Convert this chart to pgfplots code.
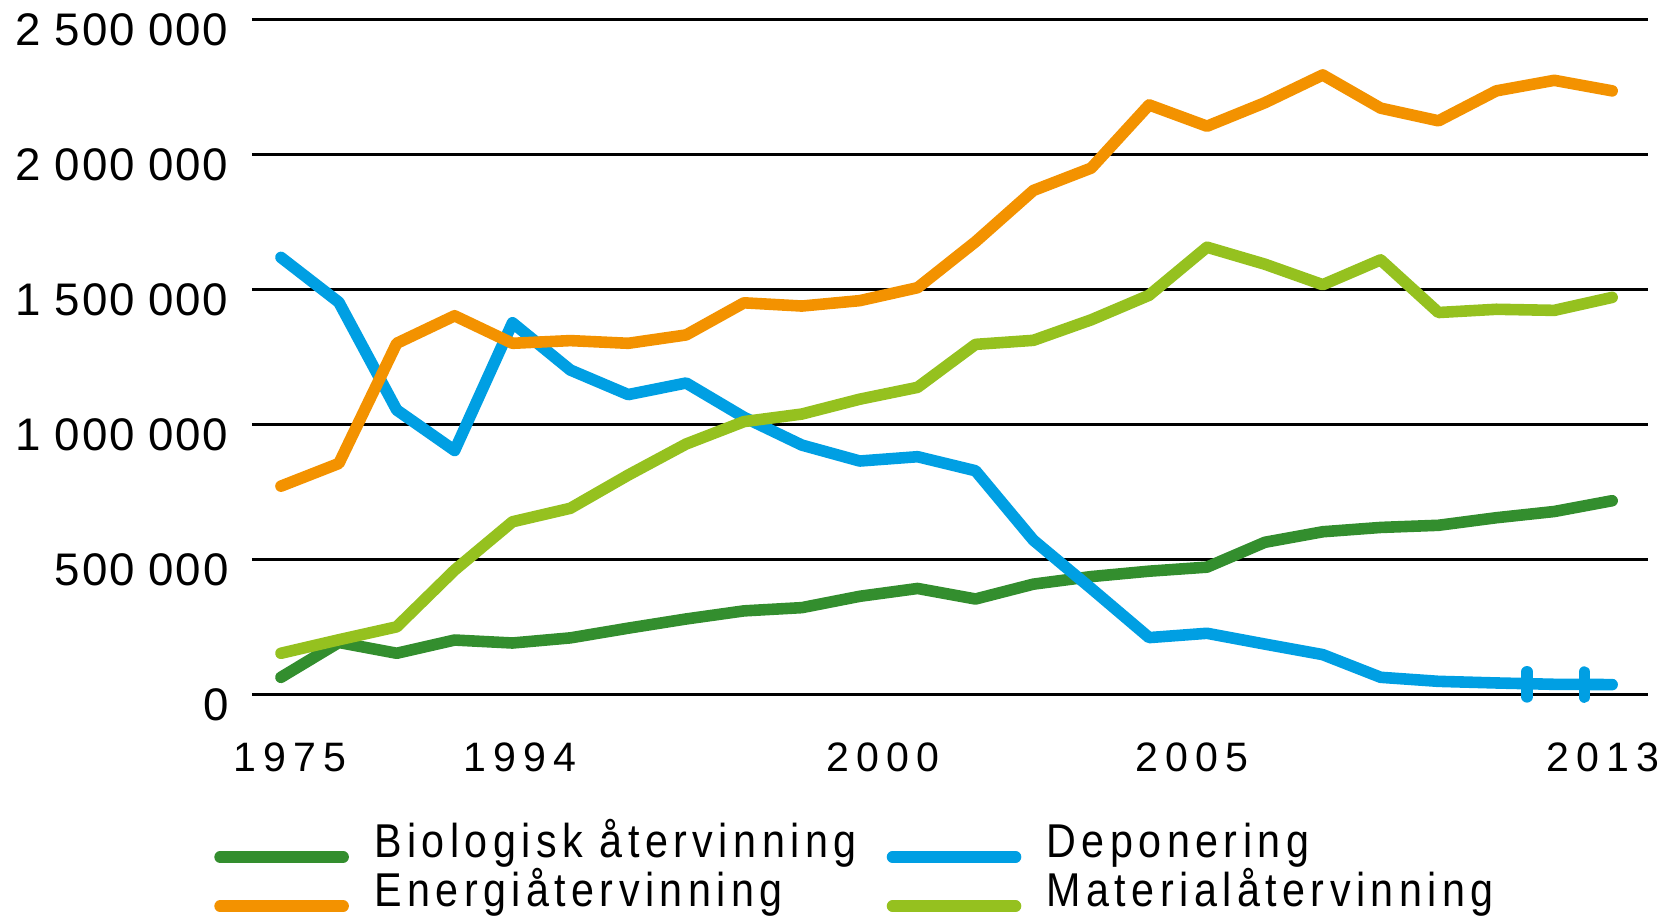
\documentclass[border=0pt]{standalone}
\usepackage{fontspec}
\setmainfont{Liberation Sans}
\newfontfamily\legfont{Liberation Sans}[LetterSpace=11.5,FakeStretch=0.87]
\newfontfamily\xfont{Liberation Sans}[LetterSpace=18]
\newfontfamily\yfont{Liberation Sans}[LetterSpace=4]
\usepackage{pgfplots}
\pgfplotsset{compat=1.18}
\definecolor{cbio}{RGB}{51,142,46}
\definecolor{cdep}{RGB}{0,159,227}
\definecolor{cene}{RGB}{243,146,0}
\definecolor{cmat}{RGB}{149,193,31}
\begin{document}
\begin{tikzpicture}
\useasboundingbox (-2.52cm,-2.287cm) rectangle (14.25cm,6.943cm);
\begin{axis}[
  at={(0,0)}, anchor=south west,
  scale only axis, width=13.96cm, height=6.75cm,
  xmin=-0.501, xmax=23.62, ymin=0, ymax=2500000,
  scaled y ticks=false,
  axis line style={draw=none}, tick style={draw=none},
  ymajorgrids, grid style={black, line width=0.75pt},
  ytick={0,500000,1000000,1500000,2000000,2500000},
  yticklabels={0,500\hspace{0.3em}000,1\hspace{0.3em}000\hspace{0.3em}000,1\hspace{0.3em}500\hspace{0.3em}000,2\hspace{0.3em}000\hspace{0.3em}000,2\hspace{0.3em}500\hspace{0.3em}000},
  yticklabel style={anchor=east, inner sep=0pt, xshift=-6.5pt, yshift=-2.9pt, font=\yfont\fontsize{13}{15}\selectfont},
  xtick={0.156,4.13,10.40,15.74,22.84},
  xticklabels={1975,1994,2000,2005,2013},
  xticklabel style={anchor=base, inner sep=0pt, yshift=-21.9pt, font=\xfont\fontsize{11.7}{13}\selectfont},
  clip=false,
  every axis plot/.append style={line width=3.3pt, line join=round, line cap=round},
  legend columns=2,
  legend cell align=left,
  legend image code/.code={\draw[#1, line width=3.3pt, line cap=round] (0pt,-3.15pt) -- (35pt,-3.15pt);},
  legend style={draw=none, fill=none, inner sep=0pt, outer sep=0pt,
    at={(rel axis cs:-0.027,-0.192)}, anchor=north west,
    font=\legfont\fontsize{13.5}{15}\selectfont,
    row sep=1.5pt,
    nodes={inner sep=0pt, text height=9.5pt, text depth=3pt},
    /tikz/every odd column/.append style={column sep=7.2pt},
    /tikz/every even column/.append style={column sep=8.6pt}},
]
\addplot[color=cbio] coordinates {
(0,63000) (1,192000) (2,152000) (3,201000) (4,190000) (5,209000) (6,245000) (7,279000)
(8,309000) (9,321000) (10,363000) (11,392000) (12,353000) (13,408000) (14,436000) (15,456000)
(16,471000) (17,563000) (18,602000) (19,618000) (20,626000) (21,654000) (22,677000) (23,717000)};
\addlegendentry{Biologisk återvinning}
\addplot[color=cdep] coordinates {
(0,1618000) (1,1452000) (2,1053000) (3,903000) (4,1376000) (5,1201000) (6,1110000) (7,1153000)
(8,1026000) (9,923000) (10,864000) (11,880000) (12,828000) (13,571000) (14,392000) (15,210000)
(16,226000) (17,186000) (18,147000) (19,63000) (20,48000) (21,42000) (22,37000) (23,36000)};
\addlegendentry{Deponering}
\addplot[color=cene] coordinates {
(0,771000) (1,855000) (2,1300000) (3,1402000) (4,1300000) (5,1310000) (6,1300000) (7,1331000)
(8,1450000) (9,1438000) (10,1458000) (11,1506000) (12,1676000) (13,1866000) (14,1949000) (15,2183000)
(16,2104000) (17,2191000) (18,2294000) (19,2171000) (20,2124000) (21,2235000) (22,2274000) (23,2235000)};
\addlegendentry{Energiåtervinning}
\addplot[color=cmat] coordinates {
(0,152000) (1,202000) (2,250000) (3,460000) (4,639000) (5,689000) (6,812000) (7,927000)
(8,1010000) (9,1038000) (10,1093000) (11,1137000) (12,1296000) (13,1311000) (14,1387000) (15,1478000)
(16,1656000) (17,1593000) (18,1517000) (19,1609000) (20,1414000) (21,1426000) (22,1422000) (23,1470000)};
\addlegendentry{Materialåtervinning}
\addplot[color=cdep, only marks, mark=|, mark size=3.56pt, mark options={line width=3.3pt, line cap=round}, forget plot]
coordinates {(21.53,37000) (22.52,36000)};
\end{axis}
\end{tikzpicture}
\end{document}
